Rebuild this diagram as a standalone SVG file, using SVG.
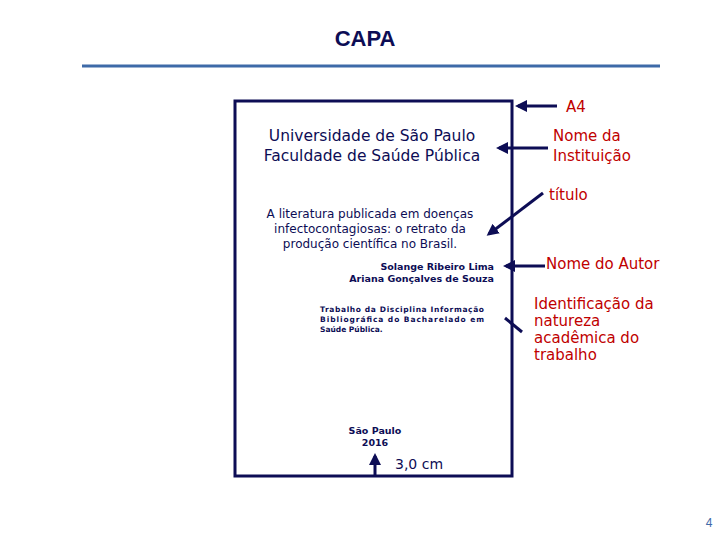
<svg xmlns="http://www.w3.org/2000/svg" width="720" height="540" viewBox="0 0 720 540">
<style>
.n{fill:#0d0d55;font-family:"DejaVu Sans",sans-serif}
.r{fill:#c00000;font-family:"DejaVu Sans",sans-serif;font-size:15px}
.c{stroke:#0d0d55;stroke-width:3;fill:none}
</style>
<defs><marker id="a" markerWidth="4" markerHeight="4" refX="3" refY="2" orient="auto"><path d="M0,0L4,2L0,4z" fill="#0d0d55"/></marker></defs>
<rect width="720" height="540" fill="#fff"/>
<g id="header">
<text x="365" y="46" text-anchor="middle" class="n" font-size="22" font-weight="bold" style="font-family:'Liberation Sans',sans-serif">CAPA</text>
<line x1="82" y1="66" x2="660" y2="66" stroke="#3e6aa8" stroke-width="3"/>
<text x="709" y="527" text-anchor="middle" fill="#3e6aa8" font-family="Liberation Sans,sans-serif" font-size="12">4</text>
</g>
<g id="page">
<rect x="235" y="101" width="277" height="375" class="c"/>
<text x="372" y="141" text-anchor="middle" class="n" font-size="15.5">Universidade de São Paulo</text>
<text x="372" y="161" text-anchor="middle" class="n" font-size="15.5">Faculdade de Saúde Pública</text>
<g font-size="12" text-anchor="middle" class="n">
<text x="370" y="218">A literatura publicada em doenças</text>
<text x="370" y="233">infectocontagiosas: o retrato da</text>
<text x="370" y="248">produção científica no Brasil.</text>
</g>
<g font-size="9.5" font-weight="bold" text-anchor="end" class="n">
<text x="494" y="270">Solange Ribeiro Lima</text>
<text x="494" y="282">Ariana Gonçalves de Souza</text>
</g>
<g font-size="7.5" font-weight="bold" class="n">
<text x="320" y="312" textLength="164" lengthAdjust="spacing">Trabalho da Disciplina Informação</text>
<text x="320" y="322" textLength="164" lengthAdjust="spacing">Bibliográfica do Bacharelado em</text>
<text x="320" y="332">Saúde Pública.</text>
</g>
<g font-size="9.5" font-weight="bold" text-anchor="middle" class="n">
<text x="375" y="434">São Paulo</text>
<text x="375" y="446">2016</text>
</g>
</g>
<g id="labels">
<text x="566" y="112" class="r">A4</text>
<text x="553" y="141" class="r">Nome da</text>
<text x="553" y="161" class="r">Instituição</text>
<text x="549" y="200" class="r">título</text>
<text x="546" y="269" class="r" font-size="14">Nome do Autor</text>
<g class="r" font-size="14"><text x="534" y="309">Identificação da</text><text x="534" y="326">natureza</text><text x="534" y="343">acadêmica do</text><text x="534" y="360">trabalho</text></g>
<text x="395" y="469" class="n" font-size="14">3,0 cm</text>
</g>
<g id="connectors" class="c">
<line x1="557" y1="106" x2="518" y2="106" marker-end="url(#a)"/>
<line x1="548" y1="148" x2="499" y2="148" marker-end="url(#a)"/>
<line x1="543" y1="193" x2="489" y2="234" marker-end="url(#a)"/>
<line x1="545" y1="266" x2="506" y2="266" marker-end="url(#a)"/>
<line x1="522" y1="332" x2="505" y2="318"/>
<line x1="375" y1="476" x2="375" y2="456" marker-end="url(#a)"/>
</g>
</svg>
